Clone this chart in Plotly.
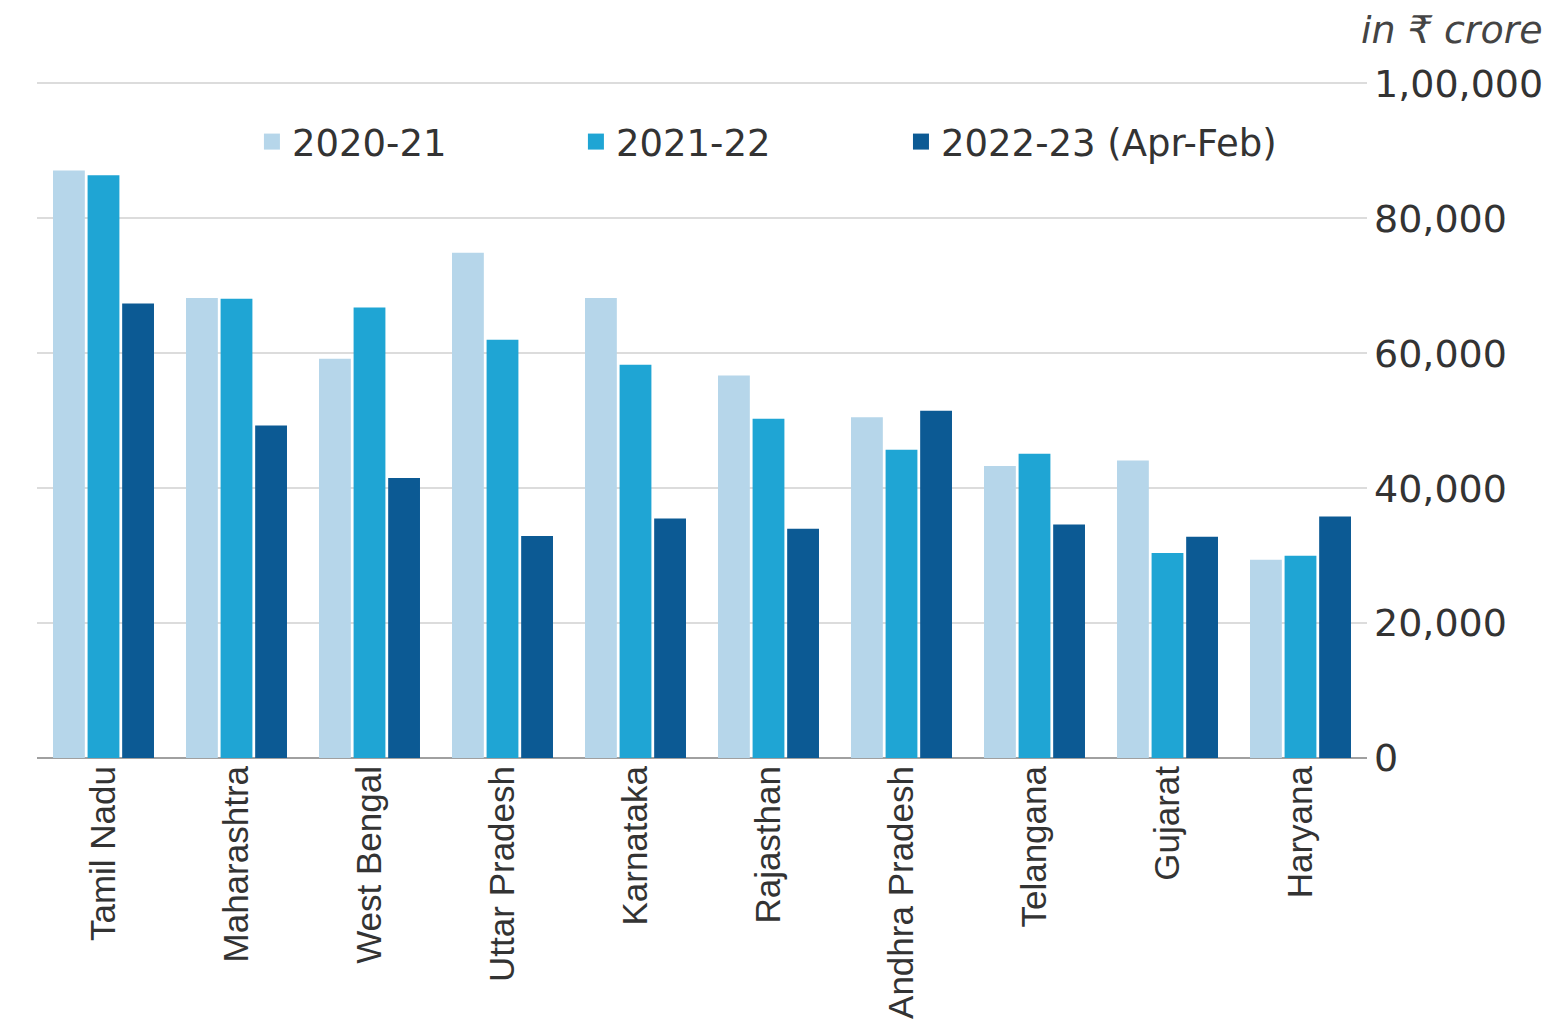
import plotly.graph_objects as go

states = ["Tamil Nadu", "Maharashtra", "West Bengal", "Uttar Pradesh", "Karnataka",
          "Rajasthan", "Andhra Pradesh", "Telangana", "Gujarat", "Haryana"]
fy2021 = [87100, 68200, 59200, 74900, 68200, 56700, 50500, 43300, 44100, 29400]
fy2122 = [86400, 68100, 66800, 62000, 58300, 50300, 45700, 45100, 30400, 30000]
fy2223 = [67400, 49300, 41500, 32900, 35500, 34000, 51500, 34600, 32800, 35800]
series_names = ["2020-21", "2021-22", "2022-23 (Apr-Feb)"]
tick_vals = [0, 20000, 40000, 60000, 80000, 100000]
tick_text = ["0", "20,000", "40,000", "60,000", "80,000", "1,00,000"]
unit_label = "in ₹ crore"

colors = ["#b6d6ea", "#1fa5d4", "#0c5a94"]
legend_ids = ["legend", "legend2", "legend3"]
legend_x = [0.1616, 0.4052, 0.6496]

fig = go.Figure()
for name, vals, col, lid in zip(series_names, [fy2021, fy2122, fy2223], colors, legend_ids):
    fig.add_trace(go.Bar(x=states, y=vals, name=name, legendgroup=name, showlegend=False,
                         marker=dict(color=col, line=dict(width=0))))
    # legend-only swatch (no data drawn)
    fig.add_trace(go.Scatter(x=[None], y=[None], mode="markers", name=name, legendgroup=name,
                             legend=lid, showlegend=True, hoverinfo="skip",
                             marker=dict(symbol="square", size=30, color=col)))

legend_common = dict(orientation="h", y=0.8953, xanchor="left", yanchor="middle",
                     font=dict(family="DejaVu Sans", size=37, color="#333333"),
                     bgcolor="rgba(0,0,0,0)", itemsizing="trace", itemwidth=30)

fig.update_layout(
    width=1562, height=1031,
    margin=dict(l=29, r=203, t=62, b=281),
    paper_bgcolor="white", plot_bgcolor="white",
    barmode="group", bargap=0.22, bargroupgap=0.08,
    showlegend=True,
    legend=dict(x=legend_x[0], **legend_common),
    legend2=dict(x=legend_x[1], **legend_common),
    legend3=dict(x=legend_x[2], **legend_common),
    font=dict(family="DejaVu Sans", color="#333333"),
)
fig.update_xaxes(
    tickangle=-90, ticks="", showgrid=False, showline=False, zeroline=False,
    tickfont=dict(family="Liberation Sans, Arial, sans-serif", size=35, color="#333333"),
    ticklabelstandoff=0, automargin=False,
)
fig.update_yaxes(
    side="right", range=[0, 102000], tickvals=tick_vals, ticktext=tick_text,
    showgrid=True, gridcolor="#dcdcdc", gridwidth=2,
    zeroline=True, zerolinecolor="#a0a0a0", zerolinewidth=2,
    showline=False, ticks="", automargin=False,
    tickfont=dict(family="DejaVu Sans", size=38, color="#333333"),
    ticklabelstandoff=6,
)
fig.add_annotation(text=unit_label, xref="paper", yref="paper", x=1.134, y=1.058,
                   xanchor="right", yanchor="middle", showarrow=False,
                   font=dict(family="DejaVu Sans", size=38, color="#444444", style="italic"))

fig.write_html("out.html")
